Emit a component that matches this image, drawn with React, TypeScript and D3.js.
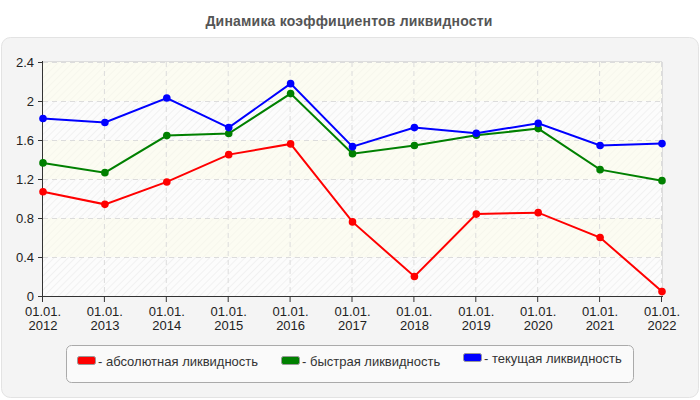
import React from "react";
import * as d3 from "d3";

const years = ["2012", "2013", "2014", "2015", "2016", "2017", "2018", "2019", "2020", "2021", "2022"];
const absoluteLiq = [1.07, 0.94, 1.17, 1.45, 1.56, 0.76, 0.2, 0.84, 0.855, 0.6, 0.045];
const quickLiq = [1.365, 1.265, 1.645, 1.666, 2.076, 1.46, 1.543, 1.648, 1.717, 1.296, 1.183];
const currentLiq = [1.82, 1.78, 2.03, 1.727, 2.178, 1.532, 1.727, 1.669, 1.771, 1.543, 1.563];
const yTicks = [0, 0.4, 0.8, 1.2, 1.6, 2, 2.4];
const seriesNames = ["- абсолютная ликвидность", "- быстрая ликвидность", "- текущая ликвидность"];
const seriesColors = ["#ff0000", "#008000", "#0000ff"];
const title = "Динамика коэффициентов ликвидности";

export default function App() {
  const left = 43, right = 662, top = 62, bottom = 296;
  const x = d3.scalePoint<string>().domain(years).range([left, right]);
  const y = d3.scaleLinear().domain([0, 2.4]).range([bottom, top]);
  const line = d3.line<number>().x((_, i) => x(years[i]) as number).y((d) => y(d));
  const series = [absoluteLiq, quickLiq, currentLiq];
  const font = "'Liberation Sans', Arial, sans-serif";
  const bands = yTicks.slice(0, -1).map((t, i) => ({ lo: t, hi: yTicks[i + 1], yellow: i % 2 === 1 }));
  const legendX = [77, 281, 463];
  const legendDy = [0, 0, -3];

  return (
    <svg width={700} height={400} style={{ position: "absolute", left: 0, top: 0 }} fontFamily={font}>
      <defs>
        <pattern id="hatch" width="5" height="5" patternUnits="userSpaceOnUse" patternTransform="rotate(45)">
          <line x1="0" y1="0" x2="0" y2="5" stroke="#000" strokeOpacity="0.045" strokeWidth="2" />
        </pattern>
      </defs>
      <rect x={0} y={0} width={700} height={400} fill="#fff" />
      <text x={349} y={26} textAnchor="middle" fontSize={14} fontWeight="bold" fill="#555" letterSpacing={0.2}>{title}</text>
      <rect x={1.5} y={37.5} width={697} height={360} rx={9} fill="#f4f4f4" stroke="#e3e3e3" />
      {bands.map((b, i) => (
        <g key={i}>
          <rect x={left} y={y(b.hi)} width={right - left} height={y(b.lo) - y(b.hi)} fill={b.yellow ? "#fcfcf2" : "#fcfcfc"} />
          <rect x={left} y={y(b.hi)} width={right - left} height={y(b.lo) - y(b.hi)} fill="url(#hatch)" opacity={b.yellow ? 0.5 : 1} />
        </g>
      ))}
      {yTicks.slice(1).map((t) => (
        <line key={t} x1={left} x2={right} y1={y(t) + 0.5} y2={y(t) + 0.5} stroke="#dcdcdc" strokeDasharray="5,4" />
      ))}
      {years.slice(1).map((yr) => (
        <line key={yr} x1={(x(yr) as number) - 0.5} x2={(x(yr) as number) - 0.5} y1={top} y2={bottom} stroke="#dcdcdc" strokeDasharray="5,4" />
      ))}
      <line x1={left} x2={right} y1={top - 0.5} y2={top - 0.5} stroke="#dddddd" />
      <line x1={right + 0.5} x2={right + 0.5} y1={top} y2={bottom} stroke="#dddddd" />
      <line x1={left - 0.5} x2={left - 0.5} y1={top - 1} y2={bottom + 1} stroke="#333" />
      <line x1={left - 1} x2={right + 1} y1={bottom + 0.5} y2={bottom + 0.5} stroke="#333" />
      {yTicks.map((t) => (
        <g key={t}>
          <line x1={left - 5} x2={left} y1={y(t) + 0.5} y2={y(t) + 0.5} stroke="#333" />
          <text x={34} y={y(t) + 5} textAnchor="end" fontSize={13} fill="#222">{String(t)}</text>
        </g>
      ))}
      {years.map((yr) => (
        <g key={yr}>
          <line x1={(x(yr) as number) - 0.5} x2={(x(yr) as number) - 0.5} y1={bottom} y2={bottom + 6} stroke="#333" />
          <text x={x(yr) as number} y={316} textAnchor="middle" fontSize={13} fill="#222">01.01.</text>
          <text x={x(yr) as number} y={329.5} textAnchor="middle" fontSize={13} fill="#222">{yr}</text>
        </g>
      ))}
      {series.map((s, i) => (
        <g key={i}>
          <path d={line(s) as string} fill="none" stroke={seriesColors[i]} strokeWidth={2} />
          {s.map((v, j) => (
            <circle key={j} cx={x(years[j]) as number} cy={y(v)} r={3.8} fill={seriesColors[i]} />
          ))}
        </g>
      ))}
      <rect x={66.5} y={345.5} width={567} height={37} rx={5} fill="#fafafa" stroke="#aaaaaa" />
      {seriesNames.map((n, i) => (
        <g key={n} transform={`translate(${legendX[i]},${legendDy[i]})`}>
          <rect x={0.5} y={356.5} width={18} height={8} rx={2} fill={seriesColors[i]} stroke="#999" />
          <text x={21} y={365.5} fontSize={13} fill="#333">{n}</text>
        </g>
      ))}
    </svg>
  );
}
